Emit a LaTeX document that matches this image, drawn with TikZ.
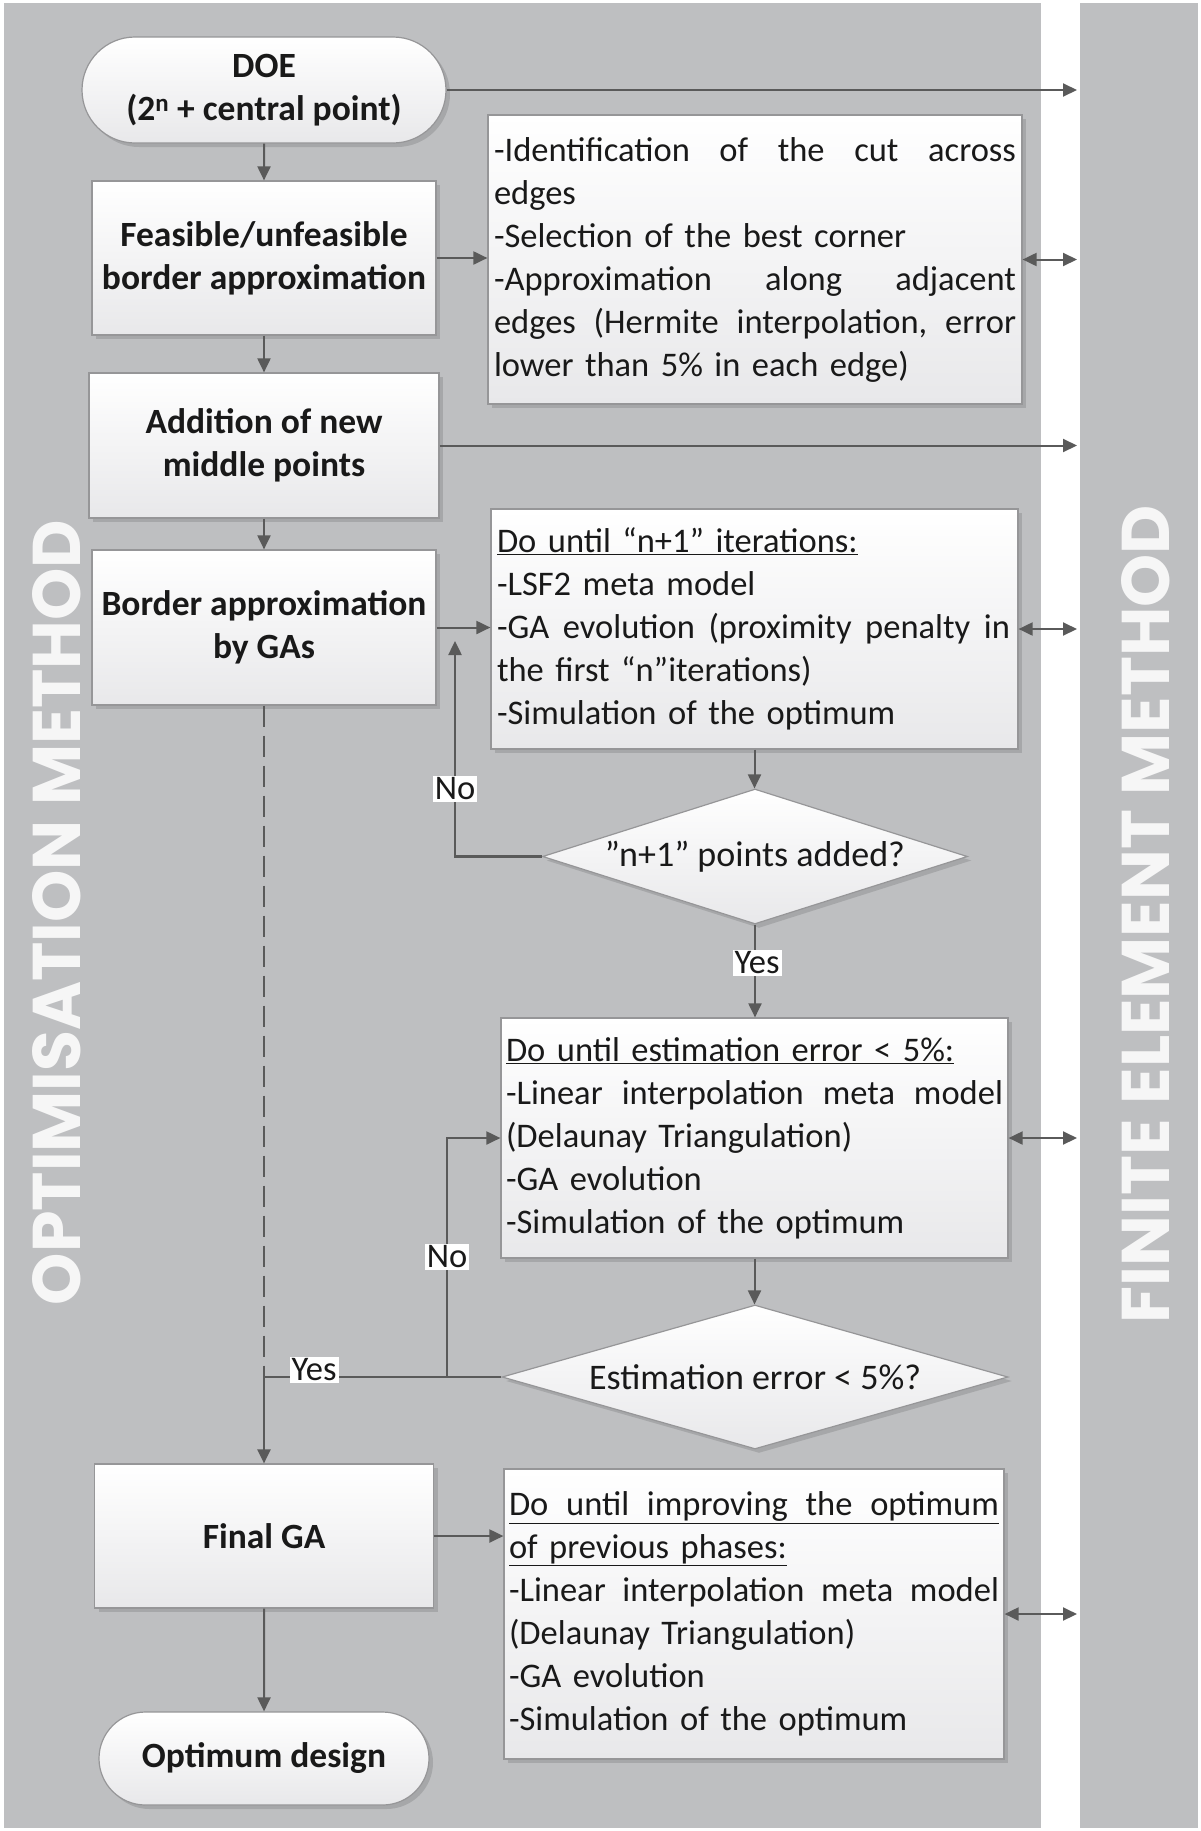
\documentclass[tikz,border=0pt]{standalone}
\usepackage{fontspec}
\setmainfont{Carlito}
\newfontfamily\bigfont{Poppins}
\usetikzlibrary{shapes.geometric,shapes.misc,arrows.meta,shadows}
\definecolor{panel}{RGB}{190,191,193}
\definecolor{arrowc}{RGB}{90,90,90}
\definecolor{boxline}{RGB}{150,150,152}
\definecolor{boxbot}{RGB}{232,232,234}
\definecolor{txt}{RGB}{25,25,25}
\definecolor{bigtxt}{RGB}{246,246,246}
\newcommand{\jl}[2]{\leavevmode\hbox to #1{#2}}
\begin{document}
\begin{tikzpicture}[x=1pt,y=-1pt,
  base/.style={draw=boxline, line width=1.2pt, top color=white, bottom color=boxbot, text=txt,
    font=\fontsize{34.5}{43}\selectfont,
    drop shadow={shadow xshift=4pt, shadow yshift=-4pt, fill=black, opacity=0.12}},
  procbox/.style={base, rectangle, inner sep=0pt, align=center, font=\fontsize{35.5}{43}\selectfont\bfseries},
  termbox/.style={base, rounded rectangle, inner sep=0pt, align=center, font=\fontsize{35.5}{43}\selectfont\bfseries},
  infobox/.style={base, rectangle, inner sep=0pt, align=left},
  decbox/.style={base, diamond, inner sep=0pt, font=\fontsize{36}{43}\selectfont},
  arr/.style={draw=arrowc, line width=2pt, -{Triangle[length=14pt,width=13pt]}},
  darr/.style={draw=arrowc, line width=2pt, {Triangle[length=14pt,width=13pt]}-{Triangle[length=14pt,width=13pt]}},
  lbl/.style={fill=white, inner sep=2pt, text=txt, font=\fontsize{34.5}{43}\selectfont},
  bigtext/.style={rotate=90, inner sep=0pt, text=bigtxt}
]
\useasboundingbox (0,0) rectangle (1200,1831);
\fill[white] (0,0) rectangle (1200,1831);
\fill[panel] (4,3) rectangle (1041,1828);
\fill[panel] (1080,3) rectangle (1198,1828);

\node[bigtext] (om) at (56.5,912.5) {\resizebox{785pt}{48pt}{\bigfont\bfseries OPTIMISATION METHOD}};
\node[bigtext] (fe) at (1146,914) {\resizebox{818pt}{48pt}{\bigfont\bfseries FINITE ELEMENT METHOD}};

\coordinate (fem) at (1077,0);

\node[termbox, minimum width=364pt, minimum height=106pt] (doe) at (264,90) {DOE\\(2\textsuperscript{n} + central point)};
\node[procbox, minimum width=344pt, minimum height=154pt] (feas) at (264,258) {Feasible/unfeasible\\border approximation};
\node[infobox, minimum width=534pt, minimum height=289pt, text width=522pt] (tb1) at (755,259.5) {%
\jl{522pt}{-Identification\hfill of\hfill the\hfill cut\hfill across}\\
edges\\
-Selection of the best corner\\
\jl{522pt}{-Approximation\hfill along\hfill adjacent}\\
\jl{522pt}{edges\hfill (Hermite\hfill interpolation,\hfill error}\\
lower than 5\% in each edge)};
\node[procbox, minimum width=350pt, minimum height=145pt] (addn) at (264,445.5) {Addition of new\\middle points};
\node[procbox, minimum width=344pt, minimum height=155pt] (bga) at (264,627.5) {Border approximation\\by GAs};
\node[infobox, minimum width=527pt, minimum height=240pt, text width=515pt] (tb2) at (754.5,629) {%
\underline{Do until “n+1” iterations:}\\
-LSF2 meta model\\
\jl{513pt}{-GA\hfill evolution\hfill (proximity\hfill penalty\hfill in}\\
the first “n”iterations)\\
-Simulation of the optimum};
\node[decbox, minimum width=425pt, minimum height=135pt] (d1) at (755,856.5) {\makebox[0pt]{”n+1” points added?}};
\node[infobox, minimum width=507pt, minimum height=240pt, text width=497pt] (tb3) at (754.5,1138) {%
\underline{Do until estimation error < 5\%:}\\
\jl{497pt}{-Linear\hfill interpolation\hfill meta\hfill model}\\
(Delaunay Triangulation)\\
-GA evolution\\
-Simulation of the optimum};
\node[decbox, minimum width=506pt, minimum height=144pt] (d2) at (755,1377) {\makebox[0pt]{Estimation error < 5\%?}};
\node[procbox, minimum width=339pt, minimum height=144pt] (fga) at (264,1536) {Final GA};
\node[infobox, minimum width=500pt, minimum height=290pt, text width=490pt] (tb4) at (754,1614) {%
\underline{\jl{490pt}{Do\hfill until\hfill improving\hfill the\hfill optimum}}\\
\underline{of previous phases:}\\
\jl{490pt}{-Linear\hfill interpolation\hfill meta\hfill model}\\
(Delaunay Triangulation)\\
-GA evolution\\
-Simulation of the optimum};
\node[termbox, minimum width=330pt, minimum height=93pt] (opt) at (264,1758.5) {Optimum design};

% connectors
\draw[arr] (doe) -- (feas);
\draw[arr] (doe.east) -- (doe.east -| fem);
\draw[arr] (feas) -- (addn);
\draw[arr] (feas.east) -- (feas.east -| tb1.west);
\draw[darr] (tb1.east) -- (tb1.east -| fem);
\draw[arr] (addn) -- (bga);
\draw[arr] (addn.east) -- (addn.east -| fem);
\draw[arr] (bga.east) -- (bga.east -| tb2.west);
\draw[darr] (tb2.east) -- (tb2.east -| fem);
\draw[arr] (tb2.south) -- (tb2.south |- d1.north);
\coordinate (n1) at (455,641);
\draw[arr, line width=2.5pt] (d1.west) -| (n1);
\draw[arr] (d1.south) -- (d1.south |- tb3.north);
\draw[darr] (tb3.east) -- (tb3.east -| fem);
\draw[arr] (tb3.south) -- (tb3.south |- d2.north);
\draw[draw=arrowc, line width=1.6pt, dash pattern=on 21pt off 9pt] (bga.south) -- (bga.south |- d2.west);
\draw[arr, line width=2.5pt] (d2.west) -| (fga.north);
\coordinate (n2) at (447,1377);
\draw[arr] (n2) |- (tb3.west);
\draw[arr] (fga.east) -- (fga.east -| tb4.west);
\draw[darr] (tb4.east) -- (tb4.east -| fem);
\draw[arr] (fga) -- (opt);

% labels
\node[lbl] (no1) at (455,789) {No};
\node[lbl] (yes1) at (757,963) {Yes};
\node[lbl] (yes2) at (314,1370) {Yes};
\node[lbl] (no2) at (447,1257) {No};
\end{tikzpicture}
\end{document}
